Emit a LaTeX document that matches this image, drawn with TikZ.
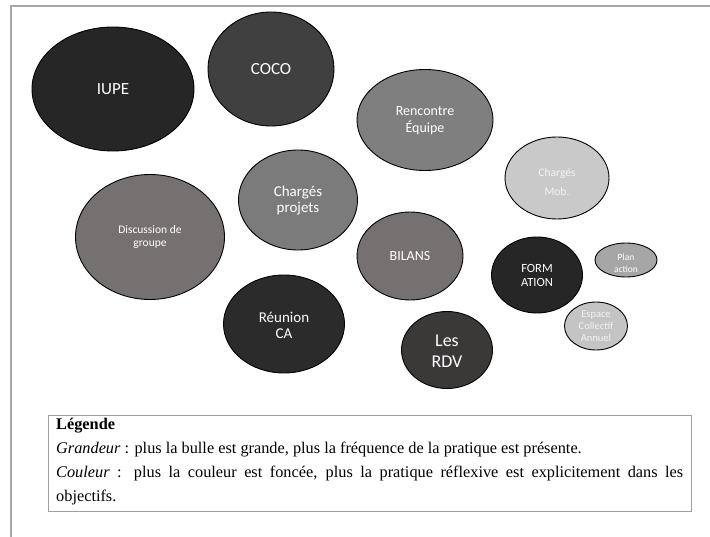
\documentclass[tikz,border=0pt]{standalone}
\usepackage{fontspec}
\setmainfont{Liberation Serif}
\setsansfont{Carlito}
\usetikzlibrary{shapes.geometric}

\definecolor{framegray}{HTML}{A6A6A6}
\definecolor{legendgray}{HTML}{A0A0A0}
\definecolor{tone1}{HTML}{262626}
\definecolor{tone2}{HTML}{404040}
\definecolor{tone3}{HTML}{7F7F7F}
\definecolor{tone4}{HTML}{C9C9C9}
\definecolor{tone5}{HTML}{757171}
\definecolor{tone6}{HTML}{7B7B7B}
\definecolor{tone7}{HTML}{2B2B2B}
\definecolor{tone8}{HTML}{3B3838}
\definecolor{tone9}{HTML}{A6A6A6}
\definecolor{tone10}{HTML}{C4C4C4}
\definecolor{lighttext}{HTML}{F2F2F2}

\newcommand{\fs}[2]{\fontsize{#1}{#2}\selectfont}

\tikzset{
  bubble/.style={ellipse, draw=black, line width=0.9pt, inner sep=0pt},
  btext/.style={text=white, font=\sffamily, align=center, inner sep=0pt},
}

\begin{document}
\begin{tikzpicture}[x=1pt, y=-1pt]
  \useasboundingbox (0,0) rectangle (710,537);

  % page frame
  \coordinate (ftl) at (11,6);
  \coordinate (ftr) at (710,6);
  \coordinate (fbl) at (11,537);
  \draw[framegray, line width=2pt] (ftr) -- (ftl) -- (fbl);

  % bubbles
  \node[bubble, fill=tone1, minimum width=162, minimum height=124,
        label={[btext, font=\sffamily\fs{17}{20}]center:IUPE}] (iupe) at (113,89) {};
  \node[bubble, fill=tone2, minimum width=126, minimum height=114,
        label={[btext, font=\sffamily\fs{17}{20}]center:COCO}] (coco) at (271,69) {};
  \node[bubble, fill=tone3, minimum width=136, minimum height=101,
        label={[btext, font=\sffamily\fs{14}{17}, yshift=-1]center:{Rencontre\\Équipe}}] (equipe) at (425,120) {};
  \node[bubble, fill=tone4, minimum width=104, minimum height=82,
        label={[btext, text=lighttext, font=\sffamily\fs{11.5}{19}, yshift=-4]center:{Chargés\\Mob.}}] (mob) at (557,178) {};
  \node[bubble, fill=tone5, minimum width=149, minimum height=125,
        label={[btext, font=\sffamily\fs{11.5}{13}]center:{Discussion de\\groupe}}] (groupe) at (150,237) {};
  \node[bubble, fill=tone6, minimum width=119, minimum height=100,
        label={[btext, font=\sffamily\fs{15}{16}, yshift=-1]center:{Chargés\\projets}}] (projets) at (298,200) {};
  \node[bubble, fill=tone7, minimum width=121, minimum height=98,
        label={[btext, font=\sffamily\fs{15}{16}, yshift=-1]center:{Réunion\\CA}}] (reunion) at (284,324) {};
  \node[bubble, fill=tone5, minimum width=106, minimum height=88,
        label={[btext, font=\sffamily\fs{14}{16}]center:BILANS}] (bilans) at (410,256) {};
  \node[bubble, fill=tone8, minimum width=91, minimum height=77,
        label={[btext, font=\sffamily\fs{18}{21}, yshift=-1]center:{Les\\RDV}}] (rdv) at (447,350) {};
  \node[bubble, fill=tone1, minimum width=91, minimum height=76,
        label={[btext, font=\sffamily\fs{12.5}{14}]center:{FORM\\ATION}}] (formation) at (537,275) {};
  \node[bubble, fill=tone9, minimum width=62, minimum height=34,
        label={[btext, font=\sffamily\fs{9.5}{12}, yshift=-3]center:{Plan\\action}}] (plan) at (626,260) {};
  \node[bubble, fill=tone10, minimum width=63, minimum height=48,
        label={[btext, text=lighttext, font=\sffamily\fs{10.5}{12}]center:{Espace\\Collectif\\Annuel}}] (espace) at (596,326) {};

  % legend
  \node[draw=legendgray, line width=1.2pt, minimum width=643, minimum height=96,
        inner sep=0pt, anchor=north west] (legend) at (48,415) {};
  \node[anchor=base west, inner sep=0pt, text width=627pt, align=justify,
        font=\fs{16.3}{24.3}] (legendtext) at (56,429)
    {\textbf{Légende}\par
     \textit{Grandeur} : plus la bulle est grande, plus la fréquence de la pratique est présente.\par
     \textit{Couleur} : plus la couleur est foncée, plus la pratique réflexive est explicitement dans les\linebreak objectifs.};
\end{tikzpicture}
\end{document}
